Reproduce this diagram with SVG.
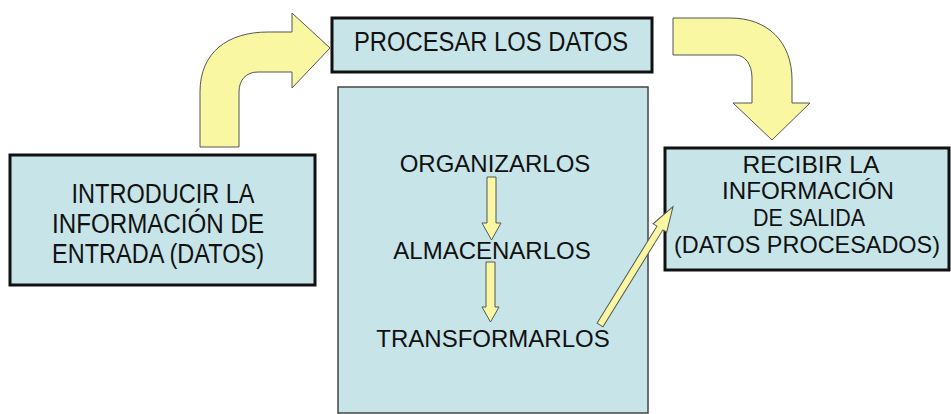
<svg xmlns="http://www.w3.org/2000/svg" width="951" height="414" viewBox="0 0 951 414">
  <style>
    .box { fill: #c7e5e9; stroke: #111; stroke-width: 3; }
    .bigbox { fill: #c7e5e9; stroke: #444; stroke-width: 1.5; }
    .arrow { fill: #f9f7a2; stroke: #555; stroke-width: 1; stroke-linejoin: miter; }
    text { font-family: "Liberation Sans", Arial, sans-serif; font-size: 24px; fill: #111; text-anchor: middle; }
    .big { font-size: 27px; }
  </style>
  <rect width="951" height="414" fill="#ffffff"/>

  <g id="node-entrada">
    <rect class="box" x="10" y="155" width="305" height="130"/>
    <text class="big" x="163" y="203" textLength="183" lengthAdjust="spacingAndGlyphs">INTRODUCIR LA</text>
    <text class="big" x="158" y="233" textLength="212" lengthAdjust="spacingAndGlyphs">INFORMACIÓN DE</text>
    <text class="big" x="158" y="263" textLength="212" lengthAdjust="spacingAndGlyphs">ENTRADA (DATOS)</text>
  </g>

  <g id="node-procesar">
    <rect class="box" x="332" y="18" width="320" height="54"/>
    <text class="big" x="491" y="51" textLength="274" lengthAdjust="spacingAndGlyphs">PROCESAR LOS DATOS</text>
  </g>

  <g id="node-proceso">
    <rect class="bigbox" x="338" y="87" width="310" height="326"/>
  </g>
  <g id="node-organizar">
    <text x="495" y="172">ORGANIZARLOS</text>
  </g>
  <g id="node-almacenar">
    <text x="492" y="259">ALMACENARLOS</text>
  </g>
  <g id="node-transformar">
    <text x="493" y="347">TRANSFORMARLOS</text>
  </g>

  <g id="node-salida">
    <rect class="box" x="665" y="148" width="284" height="122"/>
    <text x="811" y="173" textLength="137" lengthAdjust="spacingAndGlyphs">RECIBIR LA</text>
    <text x="808" y="199" textLength="172" lengthAdjust="spacingAndGlyphs">INFORMACIÓN</text>
    <text x="809" y="226" textLength="112" lengthAdjust="spacingAndGlyphs">DE SALIDA</text>
    <text x="807" y="253" textLength="266" lengthAdjust="spacingAndGlyphs">(DATOS PROCESADOS)</text>
  </g>

  <g id="connectors">
    <path class="arrow" d="M200,147 L200,92 C200,52 228,32 268,32 L292,32 L292,13 L330,48 L292,88 L292,72 L258,72 C246,72 239,80 239,92 L239,147 Z"/>
    <path class="arrow" d="M673,18 L730,18 C768,18 792,42 792,80 L792,103 L810,103 L772,140 L733,103 L752,103 L752,78 C752,64 745,55 735,55 L673,55 Z"/>
    <path class="arrow" d="M487,177 L496,177 L496,223 L501,223 L491.5,240 L482,223 L487,223 Z"/>
    <path class="arrow" d="M486,262 L495,262 L495,307 L499,307 L490.5,322 L482,307 L486,307 Z"/>
    <path class="arrow" transform="translate(600,325) rotate(-58.3)" d="M0,-3.5 L114,-3.5 L114,-8 L139,0 L114,8 L114,3.5 L0,3.5 Z"/>
  </g>
</svg>
